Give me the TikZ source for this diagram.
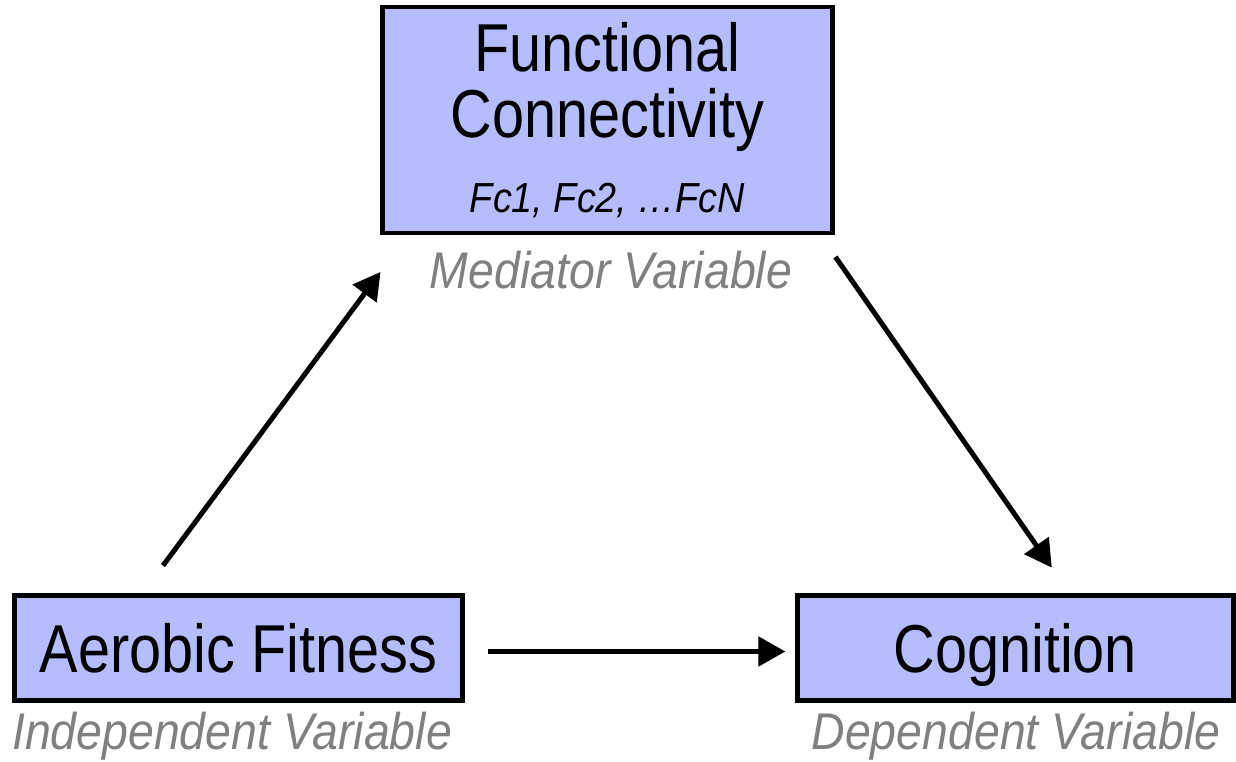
\documentclass[tikz,border=0pt]{standalone}
\usepackage{fontspec}
\setmainfont{Liberation Sans}[FakeStretch=0.85]
\newfontfamily\notefont{Liberation Sans}[FakeStretch=0.9]
\usetikzlibrary{arrows.meta, positioning}
\definecolor{boxblue}{RGB}{182,189,255}
\definecolor{notegray}{RGB}{128,128,128}
\tikzset{
    box/.style={draw=black, line width=2.4pt, fill=boxblue, inner sep=0pt, align=center, font=\fontsize{33.9}{33}\selectfont},
    note/.style={text=notegray, anchor=base, inner sep=0pt, font=\notefont\itshape\fontsize{25.8}{30}\selectfont},
    arrow/.style={-{Triangle[length=13.5pt, width=14.5pt]}, line width=2.5pt, black}
}

\begin{document}
\begin{tikzpicture}[x=0.5pt, y=-0.5pt]
    \useasboundingbox (0,0) rectangle (1236,761);
    % mediator on top, the two variables below it
    \node [box, minimum width=225pt, minimum height=113pt] (fc) at (607.5,120)
        {Functional\\Connectivity\\[4.5pt]{\notefont\itshape\fontsize{21}{21}\selectfont Fc1, Fc2, …FcN}};
    \node [box, text depth=0pt, minimum width=224pt, minimum height=52.5pt] (aero) at (238.5,648) {Aerobic Fitness};
    \node [box, text depth=0pt, minimum width=218pt, minimum height=52.5pt, right=165pt of aero] (cog) {Cognition};
    \node [note] (medlbl) at (611,288) {Mediator Variable};
    \node [note] (indlbl) at (232,749) {Independent Variable};
    \node [note] (deplbl) at (1016,749) {Dependent Variable};
    \draw [arrow] ([shift={(-75.5,-27.5)}]aero.north) -- ([shift={(0.5,36.5)}]fc.south west);
    \draw [arrow] ([shift={(0.5,21.5)}]fc.south east) -- ([shift={(36.5,-25.5)}]cog.north);
    \draw [arrow] ([shift={(23.5,3.5)}]aero.east) -- ([shift={(-9.5,3.5)}]cog.west);
\end{tikzpicture}
\end{document}
